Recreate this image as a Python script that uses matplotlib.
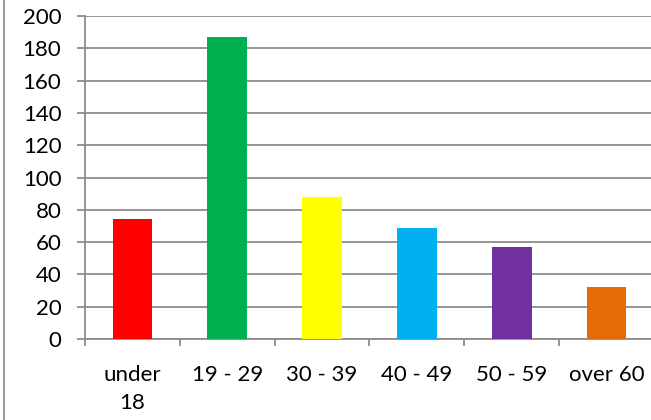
import numpy as np
import matplotlib
matplotlib.use("Agg")
import matplotlib.pyplot as plt
from matplotlib.lines import Line2D

# age groups and counts
groups = ["under\n18", "19 - 29", "30 - 39", "40 - 49", "50 - 59", "over 60"]
counts = [74, 187, 88, 69, 57, 32]
colors = ["#FF0000", "#00B050", "#FFFF00", "#00B0F0", "#7030A0", "#E36C09"]
yticks = list(range(0, 201, 20))

plt.rcParams["font.family"] = ["Lato", "DejaVu Sans"]
GRID = "#8c8c8c"

fig = plt.figure(figsize=(6.51, 4.2), dpi=100)
W, H = 651, 420
ax = fig.add_axes([85 / W, 81 / H, (654 - 85) / W, 323 / H])

x = np.arange(len(groups))
ax.bar(x, counts, width=0.42, color=colors, zorder=3)

ax.set_xlim(-0.5, len(groups) - 0.5)
ax.set_ylim(0, 200)
ax.set_yticks(yticks)
ax.set_yticklabels([str(v) for v in yticks], fontsize=16)
ax.yaxis.grid(True, color=GRID, linewidth=1.3, zorder=0)

ax.set_xticks(x)
ax.set_xticklabels(groups, fontsize=16, linespacing=1.5, va="top")
ax.set_xticks(np.arange(-0.5, len(groups)), minor=True)
ax.tick_params(axis="x", which="major", length=0, pad=19)
ax.tick_params(axis="x", which="minor", length=5, width=1.3, color=GRID)
ax.tick_params(axis="y", length=6, width=1.3, color=GRID, pad=11)

for s in ["top", "right"]:
    ax.spines[s].set_visible(False)
for s in ["left", "bottom"]:
    ax.spines[s].set_color(GRID)
    ax.spines[s].set_linewidth(1.3)
ax.set_axisbelow(True)

# outer chart border (only the left edge shows in the crop)
fig.add_artist(Line2D([3.5 / W, 3.5 / W], [0, 1], color="#9a9a9a", linewidth=1.5))

fig.savefig("out.png", dpi=100)
